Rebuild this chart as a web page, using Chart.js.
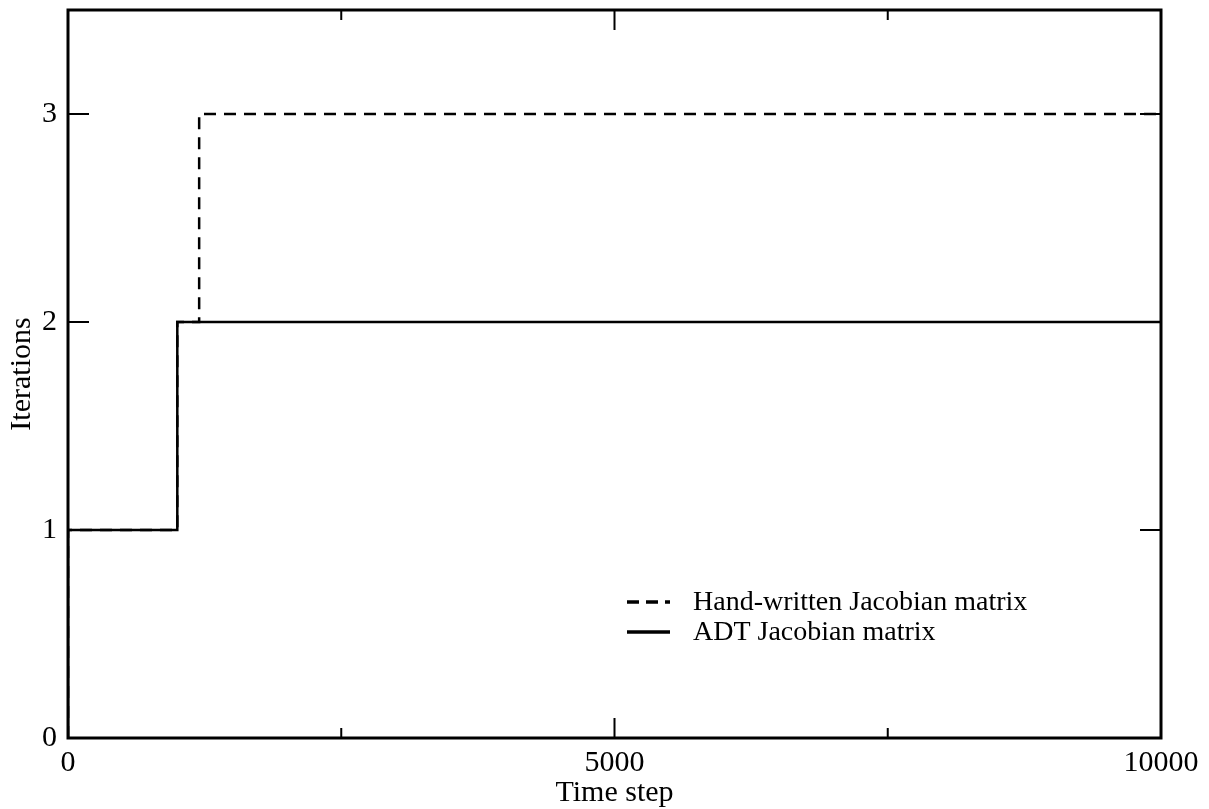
<!DOCTYPE html>
<html>
<head>
<meta charset="utf-8">
<script src="https://cdn.jsdelivr.net/npm/chart.js@4"></script>
<style>
    html, body { margin: 0; padding: 0; background: #fff; }
    #wrap { width: 1209px; height: 809px; }
</style>
</head>
<body>
<div id="wrap"><canvas id="chart"></canvas></div>
<script>
// DATA
const handX = [0, 0, 1000, 1200, 10000]
const handY = [0, 1, 2, 3, 3]
const adtX = [0, 0, 1000, 10000]
const adtY = [0, 1, 2, 2]

const xTicks = [0, 2500, 5000, 7500, 10000]
const xLabels = [0, 5000, 10000]
const yTicks = [0, 1, 2, 3]

const seriesNames = ['Hand-written Jacobian matrix', 'ADT Jacobian matrix']

const font = '"Liberation Serif", "Times New Roman", serif'

const toPoints = (xs, ys) => xs.map((x, i) => ({ x: x, y: ys[i] }))

// frame, inward ticks and inside legend
const framePlugin = {
    id: 'frame',
    afterDatasetsDraw(chart) {
        const { ctx, chartArea: a, scales } = chart
        ctx.save()
        ctx.strokeStyle = '#000'
        ctx.lineWidth = 3
        ctx.strokeRect(a.left, a.top, a.right - a.left, a.bottom - a.top)

        ctx.lineWidth = 2
        ctx.beginPath()
        xTicks.forEach((t) => {
            const px = scales.x.getPixelForValue(t)
            const len = xLabels.includes(t) ? 20 : 10
            ctx.moveTo(px, a.bottom)
            ctx.lineTo(px, a.bottom - len)
            ctx.moveTo(px, a.top)
            ctx.lineTo(px, a.top + len)
        })
        yTicks.forEach((t) => {
            const py = scales.y.getPixelForValue(t)
            ctx.moveTo(a.left, py)
            ctx.lineTo(a.left + 21, py)
            ctx.moveTo(a.right, py)
            ctx.lineTo(a.right - 21, py)
        })
        ctx.stroke()

        // legend
        const lx = a.left + 559
        const rows = [a.top + 592, a.top + 622]
        chart.data.datasets.forEach((ds, i) => {
            ctx.beginPath()
            ctx.lineWidth = 3.5
            ctx.setLineDash(ds.borderDash ? [12, 7] : [])
            ctx.moveTo(lx, rows[i])
            ctx.lineTo(lx + 43, rows[i])
            ctx.stroke()
            ctx.setLineDash([])
            ctx.fillStyle = '#000'
            ctx.font = '28px ' + font
            ctx.textBaseline = 'middle'
            ctx.fillText(ds.label, lx + 66, rows[i] + 1)
        })
        ctx.restore()
    }
}

new Chart(document.getElementById('chart'), {
    type: 'line',
    data: {
        datasets: [
            {
                label: seriesNames[0],
                data: toPoints(handX, handY),
                borderColor: '#000',
                borderWidth: 2.5,
                borderDash: [12, 8],
                pointRadius: 0,
                fill: false,
                stepped: 'before',
            },
            {
                label: seriesNames[1],
                data: toPoints(adtX, adtY),
                borderColor: '#000',
                borderWidth: 2.5,
                pointRadius: 0,
                fill: false,
                stepped: 'before',
            }
        ]
    },
    options: {
        responsive: true,
        maintainAspectRatio: false,
        animation: false,
        layout: {
            padding: { left: 0, right: 48, top: 10, bottom: 0 }
        },
        plugins: {
            legend: { display: false },
            tooltip: { enabled: false },
        },
        scales: {
            x: {
                type: 'linear',
                min: 0,
                max: 10000,
                afterFit: (scale) => {
                    scale.height = 71
                    scale.paddingLeft = 0
                    scale.paddingRight = 0
                },
                afterBuildTicks: (scale) => { scale.ticks = xTicks.map(v => ({ value: v })) },
                grid: { display: false, drawTicks: false },
                border: { display: false },
                ticks: {
                    padding: 7,
                    maxRotation: 0,
                    autoSkip: false,
                    color: '#000',
                    font: { family: font, size: 30 },
                    callback: (v) => xLabels.includes(v) ? String(v) : '',
                },
                title: {
                    display: true,
                    text: 'Time step',
                    color: '#000',
                    padding: { top: 0, bottom: -2 },
                    font: { family: font, size: 30 },
                }
            },
            y: {
                type: 'linear',
                min: 0,
                max: 3.5,
                afterFit: (scale) => {
                    scale.width = 68
                    scale.paddingTop = 0
                    scale.paddingBottom = 0
                },
                afterBuildTicks: (scale) => { scale.ticks = yTicks.map(v => ({ value: v })) },
                grid: { display: false, drawTicks: false },
                border: { display: false },
                ticks: {
                    padding: 11,
                    autoSkip: false,
                    color: '#000',
                    font: { family: font, size: 30 },
                },
                title: {
                    display: true,
                    text: 'Iterations',
                    color: '#000',
                    padding: { top: 4, bottom: 0 },
                    font: { family: font, size: 30 },
                }
            }
        }
    },
    plugins: [framePlugin]
})
</script>
</body>
</html>
